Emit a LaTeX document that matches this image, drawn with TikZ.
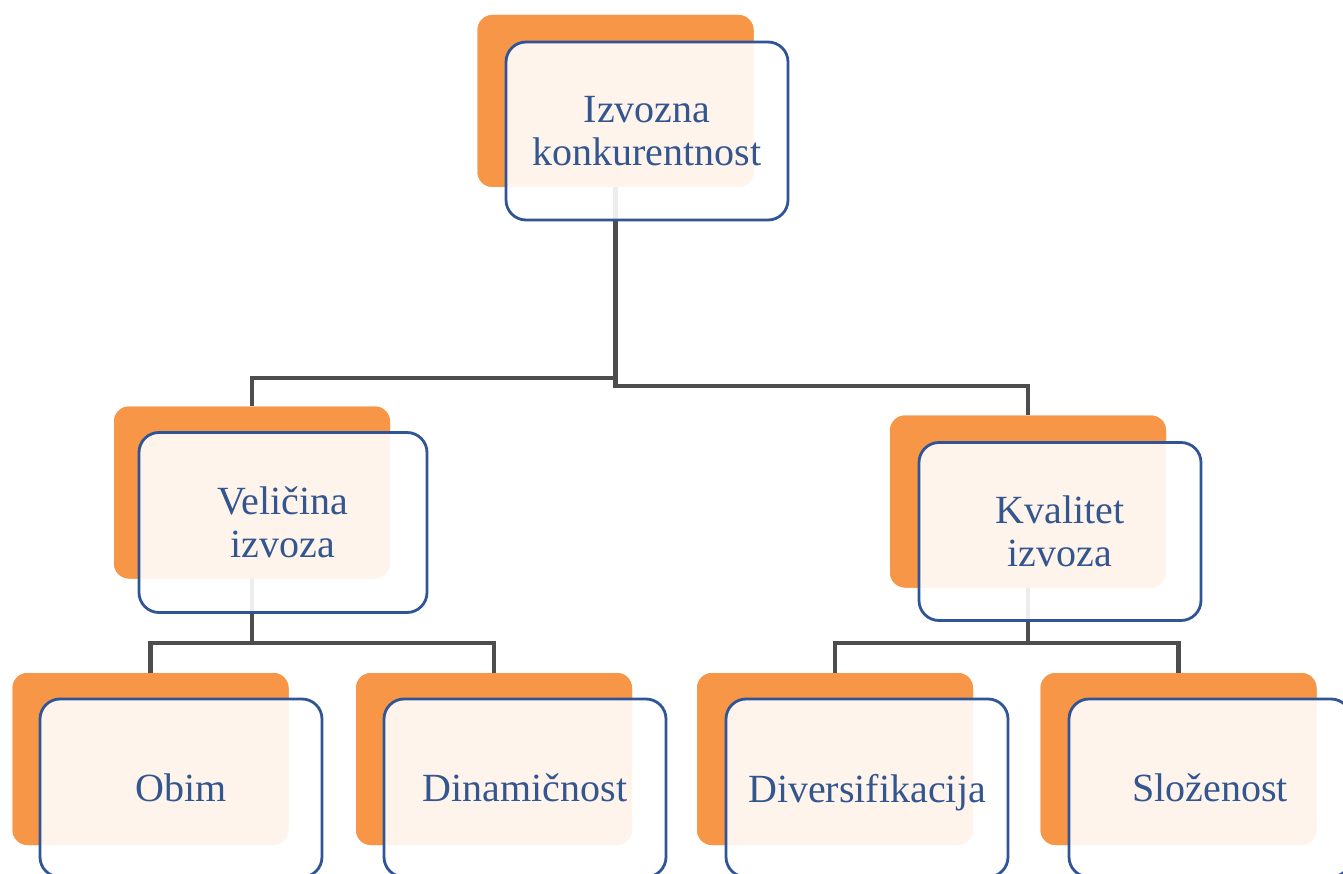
\documentclass[tikz,border=0pt]{standalone}
\usepackage{fontspec}
\setmainfont{Liberation Serif}
\definecolor{orangeC}{HTML}{F79646}
\definecolor{borderC}{HTML}{2F5597}
\definecolor{textC}{HTML}{34568F}
\definecolor{connC}{HTML}{4D4D4D}
\tikzset{
  obox/.style={fill=orangeC, rounded corners=15pt, minimum width=276pt, minimum height=172pt, inner sep=0pt, draw=none},
  fbox/.style={draw=borderC, line width=2.8pt, fill=white, fill opacity=0.9, text opacity=1,
    rounded corners=20pt, minimum width=282pt, minimum height=178pt, inner sep=0pt,
    align=center, text=textC, font=\fontsize{40}{43}\selectfont},
  conn/.style={draw=connC, line width=4.5pt, line join=miter}
}
\begin{document}
\begin{tikzpicture}[x=1pt,y=-1pt]
\useasboundingbox (0,0) rectangle (1343,874);
\clip (0,0) rectangle (1343,874);
% junction coordinates
\coordinate (jL) at (615.5,378);
\coordinate (jR) at (615.5,386);
\coordinate (jL2) at (252,643);
\coordinate (jR2) at (1028,643);
% orange back cards (positions only, for connector anchors)
\path (615.5,101) node[obox] (top-o) {};
\path (252,492.5) node[obox] (L-o) {};
\path (1028,501.5) node[obox] (R-o) {};
\path (150.5,759) node[obox] (A-o) {};
\path (494,759) node[obox] (B-o) {};
\path (835,759) node[obox] (C-o) {};
\path (1178.5,759) node[obox] (D-o) {};
% connectors (behind the cards)
\draw[conn] (top-o.center) -- (jR) -| (R-o.north);
\draw[conn] (jL) -| (L-o.north);
\draw[conn] (L-o.center) -- (jL2);
\draw[conn] (A-o.north) |- (jL2) -| (B-o.north);
\draw[conn] (R-o.center) -- (jR2);
\draw[conn] (C-o.north) |- (jR2) -| (D-o.north);
% orange cards on top of connectors
\node[obox] at (top-o) {};
\node[obox] at (L-o) {};
\node[obox] at (R-o) {};
\node[obox] at (A-o) {};
\node[obox] at (B-o) {};
\node[obox] at (C-o) {};
\node[obox] at (D-o) {};
% front cards
\node[fbox] (top) at (647,131) {Izvozna\\konkurentnost};
\node[fbox, minimum width=288pt, minimum height=180pt] (L) at (283,522.5) {Veličina\\izvoza};
\node[fbox] (R) at (1060,531.5) {Kvalitet\\izvoza};
\node[fbox] (A) at (181,788) {Obim};
\node[fbox] (B) at (525,788) {Dinamičnost};
\node[fbox] (C) at (867,788) {\raisebox{0pt}[\height][0pt]{Diversifikacija}};
\node[fbox] (D) at (1210,788) {Složenost};
\end{tikzpicture}
\end{document}
